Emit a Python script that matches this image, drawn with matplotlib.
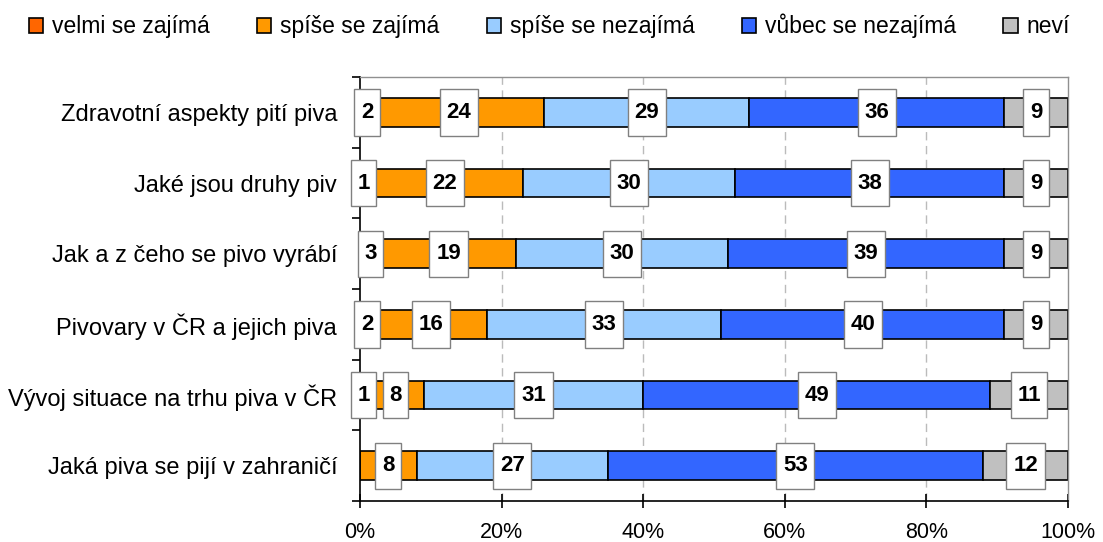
import numpy as np
import matplotlib.pyplot as plt

plt.rcParams['font.family'] = ['Liberation Sans', 'DejaVu Sans']

# data (percent)
categories = ["Zdravotní aspekty pití piva", "Jaké jsou druhy piv",
              "Jak a z čeho se pivo vyrábí", "Pivovary v ČR a jejich piva",
              "Vývoj situace na trhu piva v ČR", "Jaká piva se pijí v zahraničí"]
series = ["velmi se zajímá", "spíše se zajímá", "spíše se nezajímá",
          "vůbec se nezajímá", "neví"]
velmi = [2, 1, 3, 2, 1, 0]
spise_ano = [24, 22, 19, 16, 8, 8]
spise_ne = [29, 30, 30, 33, 31, 27]
vubec = [36, 38, 39, 40, 49, 53]
nevi = [9, 9, 9, 9, 11, 12]
colors = ["#FF6600", "#FF9900", "#99CCFF", "#3366FF", "#C0C0C0"]

values = [velmi, spise_ano, spise_ne, vubec, nevi]

fig = plt.figure(figsize=(11.03, 5.42), dpi=100)
ax = fig.add_axes([360/1103, 41/542, 708/1103, 424/542])

y = np.arange(len(categories))
left = np.zeros(len(categories))
handles = []
for vals, col, name in zip(values, colors, series):
    vals = np.array(vals, dtype=float)
    h = ax.barh(y, vals, left=left, height=0.41, color=col,
                edgecolor='black', linewidth=1.2, label=name, zorder=2)
    handles.append(h)
    for yi, l, v in zip(y, left, vals):
        if v > 0:
            ax.text(l + v/2, yi, f"{int(v)}", ha='center', va='center',
                    fontsize=16, fontweight='bold', zorder=4,
                    bbox=dict(boxstyle='square,pad=0.3', fc='white',
                              ec='#808080', lw=1, mutation_aspect=1.9))
    left = left + vals

ax.set_xlim(0, 100)
ax.set_ylim(len(categories) - 0.5, -0.5)
ax.set_xticks(np.arange(0, 101, 20))
ax.set_xticklabels([f"{t}%" for t in range(0, 101, 20)], fontsize=15.5)
ax.tick_params(axis='x', direction='inout', length=10, width=1.2, pad=10)
ax.set_yticks(y)
ax.set_yticklabels(categories, fontsize=17)
ax.tick_params(axis='y', which='major', length=0, pad=16.5)
ax.set_yticks(np.arange(-0.5, len(categories)), minor=True)
ax.tick_params(axis='y', which='minor', direction='out', length=6, width=1.2)

for gx in [20, 40, 60, 80]:
    ax.axvline(gx, color='#BBBBBB', lw=1, ls=(0, (6, 4)), zorder=1)

for s in ['top', 'right']:
    ax.spines[s].set_color('#909090')
    ax.spines[s].set_linewidth(1)
for s in ['left', 'bottom']:
    ax.spines[s].set_color('black')
    ax.spines[s].set_linewidth(1.2)

fig.legend(handles=handles, labels=series, loc='center left',
           bbox_to_anchor=(29/1103, 1 - 26/542), ncol=5, frameon=False,
           fontsize=16.5, handlelength=0.62, handleheight=0.62,
           handletextpad=0.4, columnspacing=2.05, borderpad=0,
           borderaxespad=0)

fig.savefig("out.png", dpi=100)
